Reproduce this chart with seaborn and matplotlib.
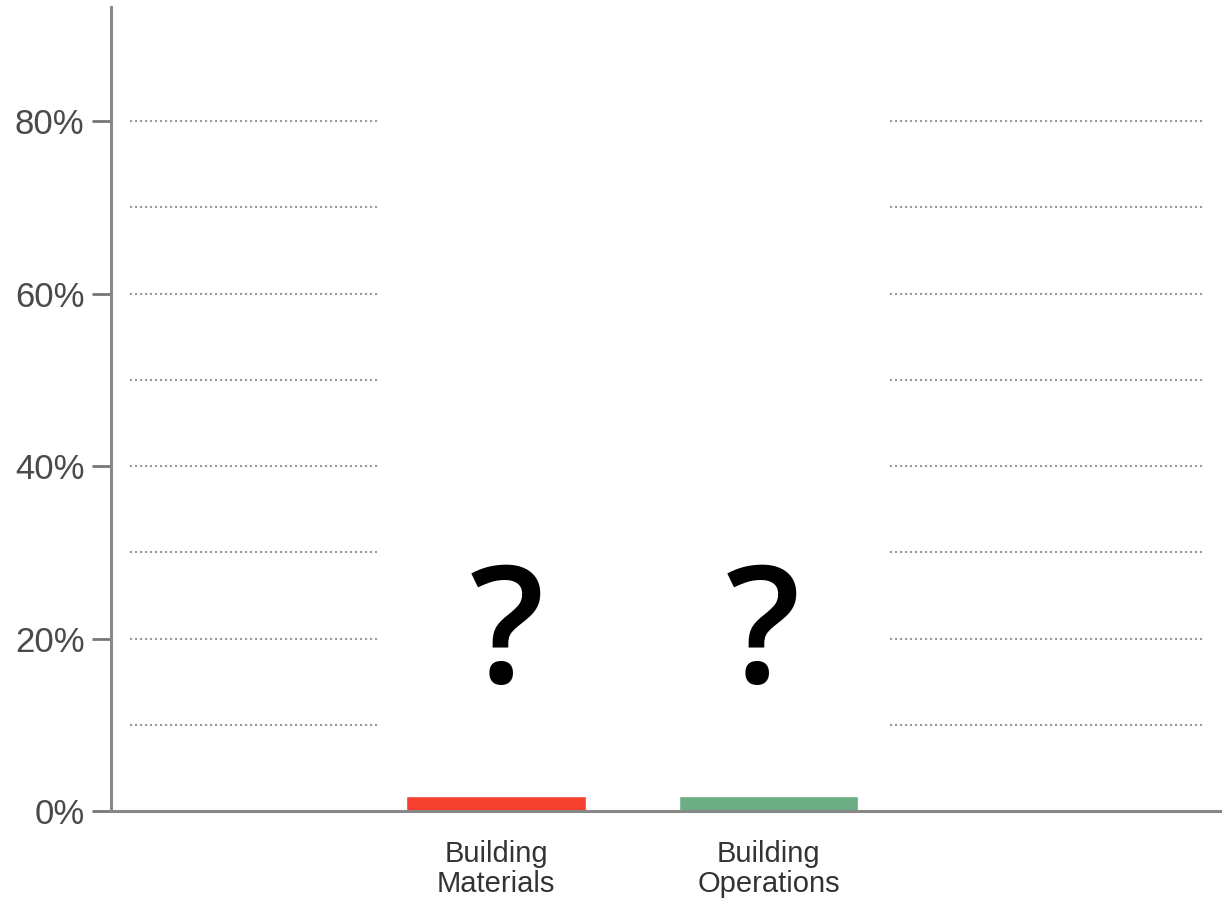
import matplotlib
matplotlib.use("Agg")
import matplotlib.pyplot as plt
import matplotlib.transforms as mtransforms
from matplotlib.ticker import FuncFormatter
import seaborn as sns
import pandas as pd

# Data
categories = ["Building\nMaterials", "Building\nOperations"]
shares = [1.7, 1.7]  # percent
bar_colors = ["#F5402F", "#6BAE86"]
labelled_ticks = [0, 20, 40, 60, 80]
grid_levels = [10, 20, 30, 40, 50, 60, 70, 80]
unknown_mark = "?"

sns.set_theme(style="white")
plt.rcParams["font.family"] = ["Liberation Sans", "DejaVu Sans"]

df = pd.DataFrame({"category": categories, "share": shares})

fig = plt.figure(figsize=(12.22, 9.02), dpi=100)
ax = fig.add_axes([0.0908, 0.1009, 0.9092, 0.891])

sns.barplot(data=df, x="category", y="share", hue="category",
            palette=bar_colors, width=0.66, legend=False, ax=ax,
            saturation=1, zorder=3)

ax.set_xlim(-1.413, 2.664)
ax.set_ylim(0, 93.2)

# Dotted guide lines, broken around the two bars
blend = mtransforms.blended_transform_factory(ax.transAxes, ax.transData)
for lvl in grid_levels:
    for x0, x1 in [(0.017, 0.242), (0.701, 0.985)]:
        ax.plot([x0, x1], [lvl, lvl], transform=blend, color="#9a9a9a",
                linestyle=(0, (1, 1.4)), linewidth=1.5, zorder=1)

# Unknown values above each bar
for i, dx in zip(range(len(categories)), [0.04, -0.02]):
    ax.text(i + dx, 19.8, unknown_mark, ha="center", va="center",
            fontsize=118, color="black", fontweight="semibold",
            family=["Open Sans", "DejaVu Sans"], zorder=4)

ax.set_yticks(labelled_ticks)
ax.yaxis.set_major_formatter(FuncFormatter(lambda v, p: f"{v:.0f}%"))
ax.tick_params(axis="y", which="major", left=True, length=14, width=2,
               color="#777777", labelsize=25, labelcolor="#4a4a4a", pad=5)
ax.tick_params(axis="x", bottom=False, labelsize=21, labelcolor="#333333", pad=15)
for lab in ax.get_xticklabels():
    lab.set_linespacing(1.1)

ax.set_xlabel("")
ax.set_ylabel("")

for side in ["top", "right"]:
    ax.spines[side].set_visible(False)
for side in ["left", "bottom"]:
    ax.spines[side].set_color("#888888")
    ax.spines[side].set_linewidth(2.2)
    ax.spines[side].set_zorder(5)

fig.savefig("out.png", dpi=100, facecolor="white")
